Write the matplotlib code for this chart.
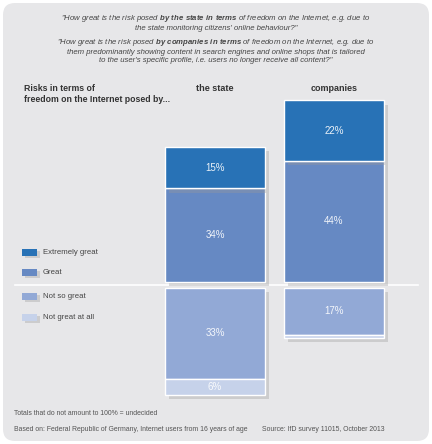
import matplotlib.pyplot as plt
import matplotlib.patheffects as pe
from matplotlib.patches import FancyBboxPatch, Rectangle
import numpy as np

plt.rcParams['font.family'] = ['Liberation Sans', 'DejaVu Sans']
plt.rcParams['mathtext.fontset'] = 'custom'
plt.rcParams['mathtext.bf'] = 'Liberation Sans:bold:italic'
plt.rcParams['mathtext.rm'] = 'Liberation Sans:italic'

# data
groups = ['the state', 'companies']
extremely_great = [15, 22]
great = [34, 44]
not_so_great = [33, 17]
not_great_at_all = [6, 1]
labels = ['Extremely great', 'Great', 'Not so great', 'Not great at all']
colors = ['#2872b6', '#6689c3', '#92a9d6', '#c6d2ea']

W, H = 432, 444
fig = plt.figure(figsize=(W / 100, H / 100), dpi=100, facecolor='white')

# rounded grey panel
bg = fig.add_axes([0, 0, 1, 1])
bg.set_xlim(0, W)
bg.set_ylim(H, 0)
bg.axis('off')
bg.add_patch(FancyBboxPatch((3, 3), W - 6, H - 6, boxstyle='round,pad=0,rounding_size=12',
                            facecolor='#e7e7e9', edgecolor='none'))
# divider line
bg.plot([15, 418], [285, 285], color='white', lw=1.2)

# bar axes: y in percent, 0 at divider line
px_per_pct = 2.75
base_px = 285
ax = fig.add_axes([0, 0, 1, 1])
ax.set_ylim(-(H - base_px) / px_per_pct, base_px / px_per_pct)
ax.set_xlim(-215 / 119, (W - 215) / 119)
ax.axis('off')

x = np.arange(len(groups))
gap = 1.1
width = 0.84
shadow = [pe.SimplePatchShadow(offset=(3, -3), shadow_rgbFace='#9a9a9a', alpha=0.35), pe.Normal()]

b_great = ax.bar(x, great, width, bottom=gap, color=colors[1], edgecolor='white', lw=1)
b_ext = ax.bar(x, extremely_great, width, bottom=gap + np.array(great), color=colors[0],
               edgecolor='white', lw=1)
b_nsg = ax.bar(x, [-v for v in not_so_great], width, bottom=-gap, color=colors[2],
               edgecolor='white', lw=1)
b_nga = ax.bar(x, [-v for v in not_great_at_all], width, bottom=-gap - np.array(not_so_great),
               color=colors[3], edgecolor='white', lw=1)
for bars in (b_great, b_ext, b_nsg, b_nga):
    for r in bars:
        r.set_path_effects(shadow)

# value labels
for bars, vals in ((b_ext, extremely_great), (b_great, great), (b_nsg, not_so_great), (b_nga, not_great_at_all)):
    for r, v in zip(bars, vals):
        if v < 3:
            continue
        cy = r.get_y() + r.get_height() / 2
        ax.text(r.get_x() + r.get_width() / 2, cy, f'{v}%', ha='center', va='center',
                color='white', fontsize=7, alpha=0.9)

# group headers
for xi, g in zip(x, groups):
    ax.text(xi, (base_px - 88) / px_per_pct, g, ha='center', va='center', fontsize=6.5,
            fontweight='bold', color='#333333')

fs = 5.6
def ftext(px, py, s, **kw):
    fig.text(px / W, 1 - py / H, s, **kw)

# questions
q1 = ('"How great is the risk posed $\\bf{by\\ the\\ state\\ in\\ terms}$ of freedom on the Internet, e.g. due to\n'
      'the state monitoring citizens\' online behaviour?"')
q2 = ('"How great is the risk posed $\\bf{by\\ companies\\ in\\ terms}$ of freedom on the Internet, e.g. due to\n'
      'them predominantly showing content in search engines and online shops that is tailored\n'
      'to the user\'s specific profile, i.e. users no longer receive all content?"')
ftext(216, 22, q1, ha='center', va='center', fontsize=fs, style='italic', color='#444444',
      linespacing=1.2)
ftext(216, 51, q2, ha='center', va='center', fontsize=fs, style='italic', color='#444444',
      linespacing=1.2)

ftext(24, 94, 'Risks in terms of\nfreedom on the Internet posed by...', ha='left', va='center',
      fontsize=6.3, fontweight='bold', color='#333333', linespacing=1.25)

# legend
leg_y = [252, 272, 296, 317]
for c, lab, ly in zip(colors, labels, leg_y):
    p = Rectangle((22, ly - 3.5), 15, 7, facecolor=c, edgecolor='none')
    p.set_path_effects([pe.SimplePatchShadow(offset=(2, -2), shadow_rgbFace='#9a9a9a', alpha=0.35),
                        pe.Normal()])
    bg.add_patch(p)
    ftext(43, ly, lab, ha='left', va='center', fontsize=5.6, color='#444444')

# footer
ftext(14, 413, 'Totals that do not amount to 100% = undecided', ha='left', va='center',
      fontsize=4.95, color='#555555')
ftext(14, 429, 'Based on: Federal Republic of Germany, Internet users from 16 years of age',
      ha='left', va='center', fontsize=4.95, color='#555555')
ftext(262, 429, 'Source: IfD survey 11015, October 2013', ha='left', va='center',
      fontsize=4.95, color='#555555')

fig.savefig('out.png', dpi=100, facecolor='white')
